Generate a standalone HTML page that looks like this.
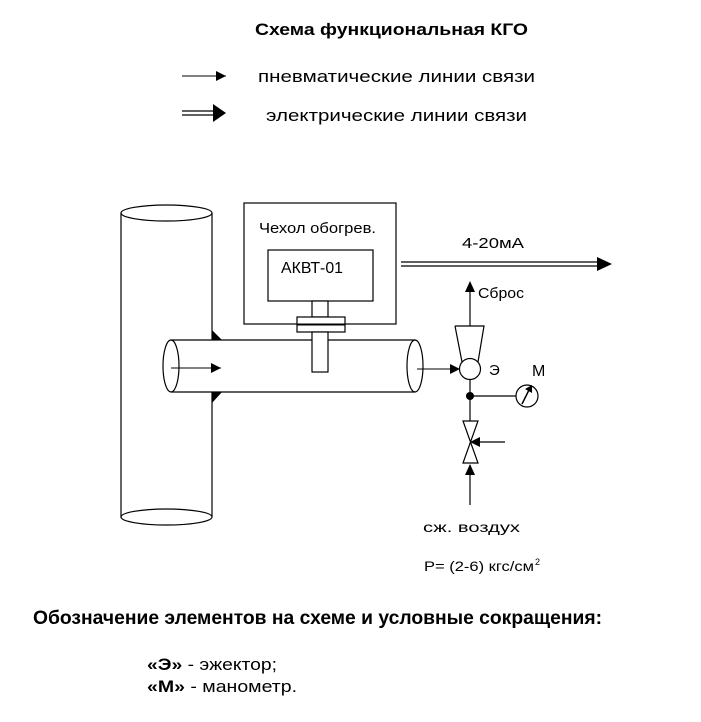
<!DOCTYPE html>
<html><head><meta charset="utf-8"><style>
body{margin:0;background:#fff;width:701px;height:722px;overflow:hidden}
svg{display:block}
text{font-family:"Liberation Sans",sans-serif}
</style></head><body>
<svg width="701" height="722" viewBox="0 0 701 722" xmlns="http://www.w3.org/2000/svg">
<defs>
<marker id="a" viewBox="0 0 10 10" refX="10" refY="5" markerWidth="10" markerHeight="10" markerUnits="userSpaceOnUse" orient="auto"><path d="M0,0L10,5L0,10z" fill="#000"/></marker>
</defs>
<text x="255" y="35" font-size="17" font-weight="bold" textLength="273" lengthAdjust="spacingAndGlyphs">Схема функциональная КГО</text>
<line x1="182" y1="76" x2="226" y2="76" stroke="#000" marker-end="url(#a)"/>
<text x="258" y="82" font-size="17" textLength="277" lengthAdjust="spacingAndGlyphs">пневматические линии связи</text>
<line x1="182" y1="111" x2="215" y2="111" stroke="#000" stroke-width="1.2"/>
<line x1="182" y1="115" x2="215" y2="115" stroke="#000" stroke-width="1.2"/>
<path d="M213,104L226,113L213,122z" fill="#000"/>
<text x="266" y="121" font-size="17" textLength="261" lengthAdjust="spacingAndGlyphs">электрические линии связи</text>

<g fill="none" stroke="#000" stroke-width="1.2">
<line x1="121" y1="213" x2="121" y2="517"/>
<line x1="212" y1="213" x2="212" y2="517"/>
<ellipse cx="166.5" cy="213" rx="45.5" ry="8"/>
<path d="M121,517 A45.5,8 0 0 0 212,517 A45.5,8 0 0 0 121,517"/>
<rect x="171" y="340" width="244" height="52" fill="#fff" stroke="none"/>
<line x1="171" y1="340" x2="415" y2="340"/>
<line x1="171" y1="392" x2="415" y2="392"/>
<ellipse cx="171" cy="366" rx="8" ry="26" fill="#fff"/>
<ellipse cx="415" cy="366" rx="8" ry="26"/>
<rect x="244" y="203" width="152" height="121"/>
<rect x="268" y="250" width="105" height="51"/>
<rect x="312" y="301" width="16" height="16" fill="#fff"/>
<rect x="297" y="317" width="48" height="15" fill="#fff"/>
<rect x="312" y="332" width="16" height="40" fill="#fff"/>
</g>
<line x1="297" y1="324.5" x2="345" y2="324.5" stroke="#000" stroke-width="2"/>
<path d="M212,330L222,340L212,340z" fill="#000"/>
<path d="M212,392L222,392L212,403z" fill="#000"/>
<line x1="171" y1="368" x2="221" y2="368" stroke="#000" marker-end="url(#a)"/>
<text x="259" y="233" font-size="15" textLength="117" lengthAdjust="spacingAndGlyphs">Чехол обогрев.</text>
<text x="281" y="273" font-size="16" textLength="62" lengthAdjust="spacingAndGlyphs">АКВТ-01</text>

<line x1="401" y1="262" x2="600" y2="262" stroke="#000" stroke-width="1.2"/>
<line x1="401" y1="266" x2="600" y2="266" stroke="#000" stroke-width="1.2"/>
<path d="M597,257L612,264L597,271z" fill="#000"/>
<text x="462" y="248" font-size="15" textLength="62" lengthAdjust="spacingAndGlyphs">4-20мА</text>

<line x1="417" y1="369" x2="460" y2="369" stroke="#000" marker-end="url(#a)"/>
<g fill="none" stroke="#000" stroke-width="1.2">
<path d="M455,326L484,326L478,362M455,326L462,362"/>
<circle cx="470" cy="369" r="10.5" fill="#fff"/>
<line x1="470" y1="326" x2="470" y2="283"/>
<line x1="470" y1="380" x2="470" y2="421"/>
<line x1="470" y1="396" x2="516" y2="396"/>
<circle cx="527" cy="396" r="11"/>
<path d="M463,421L478,421L463,463L478,463z"/>
<line x1="505" y1="442" x2="480" y2="442"/>
<line x1="470" y1="505" x2="470" y2="465"/>
</g>
<path d="M465,292L470,281L475,292z" fill="#000"/>
<path d="M480,437L470,442L480,447z" fill="#000"/>
<path d="M465,475L470,464L475,475z" fill="#000"/>
<circle cx="470" cy="396" r="4" fill="#000"/>
<line x1="522" y1="404" x2="529" y2="390" stroke="#000" stroke-width="1.5"/>
<path d="M525,389L532,385L532,393z" fill="#000"/>
<text x="478" y="298" font-size="15" textLength="46" lengthAdjust="spacingAndGlyphs">Сброс</text>
<text x="489" y="375" font-size="15">Э</text>
<text x="532" y="376" font-size="16">М</text>
<text x="423" y="532" font-size="14" textLength="97" lengthAdjust="spacingAndGlyphs">сж. воздух</text>
<text x="424" y="571" font-size="14" textLength="110" lengthAdjust="spacingAndGlyphs">P= (2-6) кгс/см</text>
<text x="535" y="565" font-size="9">2</text>

<text x="33" y="624" font-size="19" font-weight="bold" textLength="569" lengthAdjust="spacingAndGlyphs">Обозначение элементов на схеме и условные сокращения:</text>
<text x="147" y="670" font-size="17" textLength="130" lengthAdjust="spacingAndGlyphs"><tspan font-weight="bold">«Э»</tspan> - эжектор;</text>
<text x="147" y="692" font-size="17" textLength="150" lengthAdjust="spacingAndGlyphs"><tspan font-weight="bold">«М»</tspan> - манометр.</text>
</svg>
</body></html>
